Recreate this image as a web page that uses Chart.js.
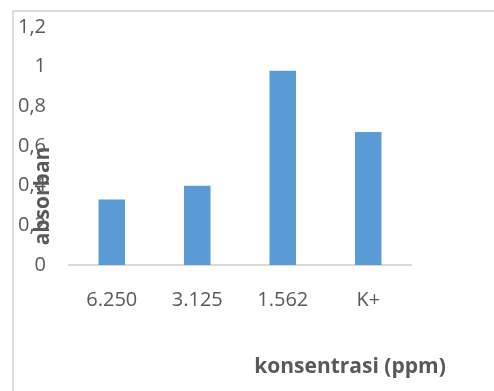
<!DOCTYPE html>
<html>
<head>
<meta charset="utf-8">
<script src="https://cdn.jsdelivr.net/npm/chart.js@4/dist/chart.umd.min.js"></script>
<style>
  html, body { margin: 0; padding: 0; background: #fff; overflow: hidden; }
  #wrap { position: relative; width: 494px; height: 391px; }
  #frame { position: absolute; left: 12px; top: 10px; width: 520px; height: 420px;
           border: 2px solid #dedede; box-sizing: border-box; pointer-events: none; }
  canvas { position: absolute; left: 0; top: 0; }
</style>
</head>
<body>
<div id="wrap">
  <div id="frame"></div>
  <canvas id="c" width="494" height="391"></canvas>
</div>
<script>
// Absorbance per concentration
const categories = ['6.250', '3.125', '1.562', 'K+'];
const absorban = [0.33, 0.40, 0.98, 0.67];
const yTickLabels = ['0', '0,2', '0,4', '0,6', '0,8', '1', '1,2'];
const xTitle = 'konsentrasi (ppm)';
const yTitle = 'absorban';

const textColor = '#595959';
const fontFamily = '"Open Sans", "Liberation Sans", sans-serif';

// Axis titles sit where the spreadsheet placed them, overlapping the tick column
const axisTitles = {
  id: 'axisTitles',
  afterDraw(chart) {
    const ctx = chart.ctx;
    ctx.save();
    ctx.fillStyle = textColor;
    ctx.font = 'bold 21px ' + fontFamily;
    ctx.textAlign = 'center';
    ctx.textBaseline = 'middle';
    ctx.fillText(xTitle, 350, 367);
    ctx.translate(43, 196);
    ctx.rotate(-Math.PI / 2);
    ctx.fillText(yTitle, 0, 0);
    ctx.restore();
  }
};

new Chart(document.getElementById('c'), {
  type: 'bar',
  data: {
    labels: categories,
    datasets: [{
      data: absorban,
      backgroundColor: '#5b9bd5',
      borderWidth: 0,
      categoryPercentage: 1,
      barPercentage: 0.31
    }]
  },
  options: {
    responsive: false,
    animation: false,
    layout: { padding: { left: 0, right: 83, top: 17, bottom: 0 } },
    plugins: { legend: { display: false }, tooltip: { enabled: false } },
    scales: {
      x: {
        grid: { display: false },
        border: { display: true, color: '#d9d9d9', width: 2 },
        ticks: { color: textColor, font: { family: fontFamily, size: 20 }, padding: 15, maxRotation: 0 },
        afterFit(scale) { scale.height = 126; }
      },
      y: {
        min: 0,
        max: 1.2,
        grid: { display: false },
        border: { display: false },
        ticks: {
          stepSize: 0.2,
          color: textColor,
          font: { family: fontFamily, size: 20 },
          padding: 15,
          callback: (v, i) => yTickLabels[i]
        },
        afterFit(scale) { scale.width = 69; }
      }
    }
  },
  plugins: [axisTitles]
});
</script>
</body>
</html>
